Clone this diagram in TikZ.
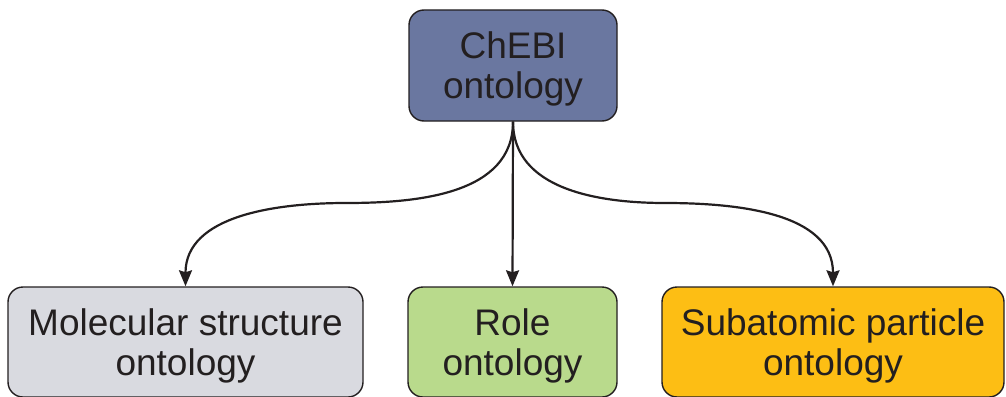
\documentclass[tikz,border=0pt]{standalone}
\usepackage{fontspec}
\setmainfont{Liberation Sans}
\usetikzlibrary{arrows.meta}
\definecolor{topfill}{HTML}{6A77A0}
\definecolor{molfill}{HTML}{D9DAE0}
\definecolor{rolefill}{HTML}{B9DA8C}
\definecolor{subfill}{HTML}{FDBE14}
\definecolor{inkc}{HTML}{231F20}
\begin{document}
\begin{tikzpicture}[x=1pt,y=-1pt,
  box/.style={draw=inkc, line width=1.4pt, rounded corners=15pt, inner sep=0pt,
    align=center, text=inkc, font=\fontsize{37}{40}\selectfont, text depth=0pt,
    minimum height=110pt},
  conn/.style={draw=inkc, line width=2.2pt, -{Stealth[length=16pt,width=13pt,inset=2pt]}}]
\useasboundingbox (0,0) rectangle (1006,396);
\node[box, fill=topfill, minimum width=208pt, minimum height=111pt] (top) at (513,65.5) {ChEBI\\ontology};
\node[box, fill=molfill, minimum width=355pt] (mol) at (185.5,342) {Molecular structure\\ontology};
\node[box, fill=rolefill, minimum width=209pt] (role) at (512.5,342) {Role\\ontology};
\node[box, fill=subfill, minimum width=342pt] (sub) at (833,342) {Subatomic particle\\ontology};
\coordinate (lm) at (346,203);
\coordinate (rm) at (665,203);
\draw[conn] (top.south) to[out=-90,in=0] (lm) to[out=180,in=90] (mol.north);
\draw[conn] (top.south) -- (role.north);
\draw[conn] (top.south) to[out=-90,in=180] (rm) to[out=0,in=90] (sub.north);
\end{tikzpicture}
\end{document}
